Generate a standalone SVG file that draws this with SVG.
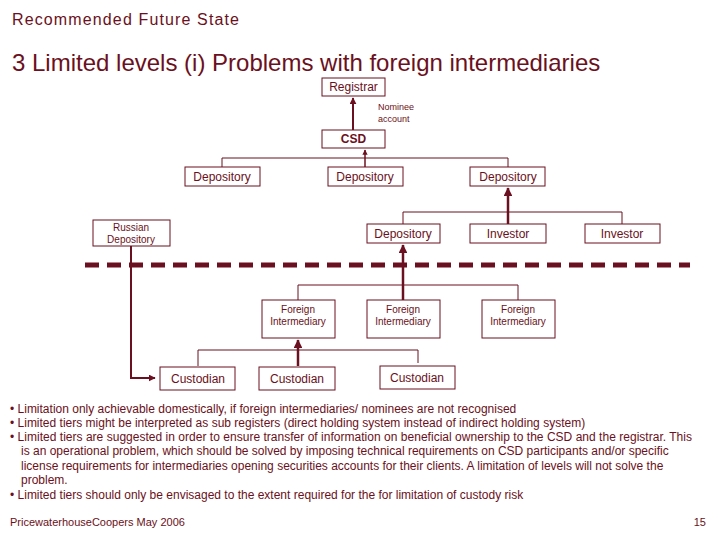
<svg xmlns="http://www.w3.org/2000/svg" width="720" height="540" viewBox="0 0 720 540">
<style>
text{font-family:"Liberation Sans",Arial,sans-serif;fill:#6b1020}
.b rect{fill:#fff;stroke:#6b1020;stroke-width:1}
.b text{fill:#6b1020;text-anchor:middle;font-size:12px}
.s text{font-size:10px}
.c line,.c path{stroke:#6b1020;fill:none}
.t{font-size:12px}
</style>
<defs><marker id="a" viewBox="0 0 10 10" refX="9" refY="5" markerWidth="3.5" markerHeight="3.5" orient="auto"><path d="M0,0L10,5L0,10z" fill="#6b1020"/></marker></defs>
<rect width="720" height="540" fill="#fff"/>
<text x="12" y="25" font-size="16" textLength="227">Recommended Future State</text>
<text x="12" y="71" font-size="24">3 Limited levels (i) Problems with foreign intermediaries</text>
<g class="c">
<line x1="353" y1="130" x2="353" y2="98" stroke-width="2" marker-end="url(#a)"/>
<path d="M222 167V158H508V167"/>
<line x1="365" y1="167" x2="365" y2="150" stroke-width="1.5" marker-end="url(#a)"/>
<path d="M403 224V212H622V224"/>
<line x1="508" y1="224" x2="508" y2="188" stroke-width="2.5" marker-end="url(#a)"/>
<line x1="85" y1="265" x2="690" y2="265" stroke-width="5" stroke-dasharray="14 8"/>
<path d="M298 300V285H518V300"/>
<line x1="403" y1="300" x2="403" y2="245" stroke-width="2.5" marker-end="url(#a)"/>
<path d="M198 366V350H418V363"/>
<line x1="298" y1="366" x2="298" y2="340" stroke-width="2.5" marker-end="url(#a)"/>
<path d="M131 246V378H155" stroke-width="2" marker-end="url(#a)"/>
</g>
<g id="registrar" class="b"><rect x="322" y="78" width="63" height="18"/><text x="353.5" y="91">Registrar</text></g>
<g id="nominee" class="b s"><text x="378" y="110" style="text-anchor:start;font-size:9px">Nominee</text><text x="378" y="122" style="text-anchor:start;font-size:9px">account</text></g>
<g id="csd" class="b"><rect x="322" y="130" width="63" height="18"/><text x="353.5" y="143" font-weight="bold">CSD</text></g>
<g id="dep1" class="b"><rect x="185" y="167" width="75" height="19"/><text x="222" y="181">Depository</text></g>
<g id="dep2" class="b"><rect x="328" y="167" width="75" height="19"/><text x="365" y="181">Depository</text></g>
<g id="dep3" class="b"><rect x="470" y="167" width="75" height="19"/><text x="508" y="181">Depository</text></g>
<g id="rusdep" class="b s"><rect x="93" y="220" width="77" height="26"/><text x="131" y="231">Russian</text><text x="131" y="243">Depository</text></g>
<g id="dep4" class="b"><rect x="367" y="224" width="73" height="19"/><text x="403" y="238">Depository</text></g>
<g id="inv1" class="b"><rect x="470" y="224" width="76" height="19"/><text x="508" y="238">Investor</text></g>
<g id="inv2" class="b"><rect x="585" y="224" width="75" height="19"/><text x="622" y="238">Investor</text></g>
<g id="fi1" class="b s"><rect x="262" y="300" width="73" height="38"/><text x="298" y="313">Foreign</text><text x="298" y="325">Intermediary</text></g>
<g id="fi2" class="b s"><rect x="367" y="300" width="73" height="38"/><text x="403" y="313">Foreign</text><text x="403" y="325">Intermediary</text></g>
<g id="fi3" class="b s"><rect x="482" y="300" width="73" height="38"/><text x="518" y="313">Foreign</text><text x="518" y="325">Intermediary</text></g>
<g id="cus1" class="b"><rect x="160" y="367" width="75" height="23"/><text x="198" y="383">Custodian</text></g>
<g id="cus2" class="b"><rect x="259" y="367" width="76" height="23"/><text x="297" y="383">Custodian</text></g>
<g id="cus3" class="b"><rect x="380" y="366" width="75" height="23"/><text x="417" y="382">Custodian</text></g>
<g class="t">
<text x="10" y="413">• Limitation only achievable domestically, if foreign intermediaries/ nominees are not recognised</text>
<text x="10" y="427">• Limited tiers might be interpreted as sub registers (direct holding system instead of indirect holding system)</text>
<text x="10" y="441" textLength="682">• Limited tiers are suggested in order to ensure transfer of information on beneficial ownership to the CSD and the registrar. This</text>
<text x="21" y="455">is an operational problem, which should be solved by imposing technical requirements on CSD participants and/or specific</text>
<text x="21" y="470">license requirements for intermediaries opening securities accounts for their clients. A limitation of levels will not solve the</text>
<text x="21" y="484">problem.</text>
<text x="10" y="499">• Limited tiers should only be envisaged to the extent required for the for limitation of custody risk</text>
<text x="10" y="526" font-size="11">PricewaterhouseCoopers May 2006</text>
<text x="706" y="526" text-anchor="end" font-size="11">15</text>
</g>
</svg>
